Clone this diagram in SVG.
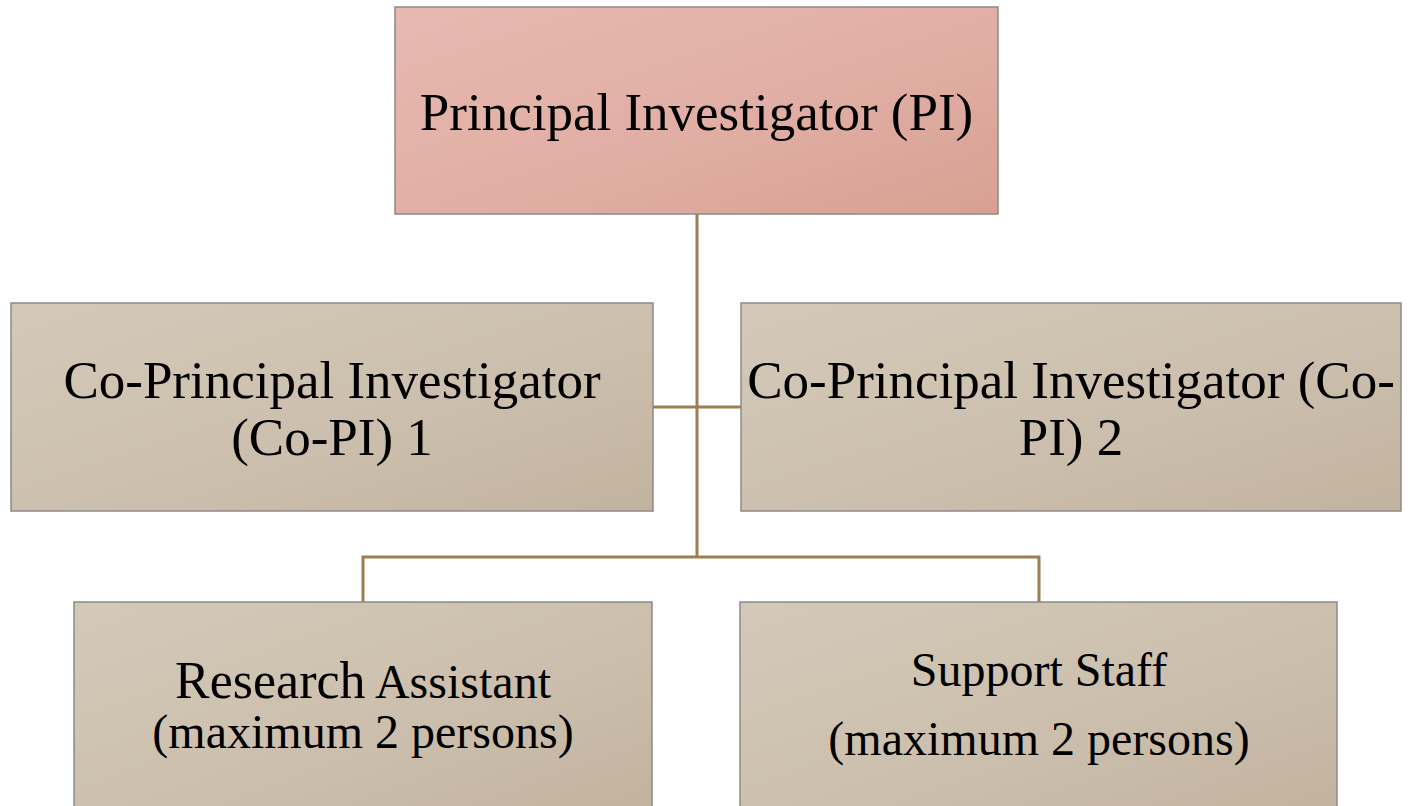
<svg xmlns="http://www.w3.org/2000/svg" width="1408" height="806" viewBox="0 0 1408 806">
<defs>
<linearGradient id="gPI" x1="0" y1="0" x2="1" y2="1">
<stop offset="0" stop-color="#e7b9b0"/>
<stop offset="0.6" stop-color="#e0ada3"/>
<stop offset="1" stop-color="#d7a092"/>
</linearGradient>
<linearGradient id="gN" x1="0" y1="0" x2="1" y2="1">
<stop offset="0" stop-color="#d4c9b9"/>
<stop offset="0.6" stop-color="#cbbeac"/>
<stop offset="1" stop-color="#c2b39e"/>
</linearGradient>
</defs>
<style>
.box{stroke:#8c8a86;stroke-width:1.5}
.pi{fill:url(#gPI)}
.n{fill:url(#gN)}
text{font-family:"Liberation Serif","Times New Roman",serif;fill:#000;text-anchor:middle}
.t53{font-size:53px}
.t48{font-size:48px}
.conn{stroke:#9b7f50;stroke-width:3;fill:none}
</style>
<rect width="1408" height="806" fill="#fff"/>
<g id="connectors">
<line class="conn" x1="697" y1="214" x2="697" y2="557"/>
<line class="conn" x1="653" y1="407" x2="741" y2="407"/>
<polyline class="conn" points="363,602 363,557 1039,557 1039,602"/>
</g>
<g id="pi">
<rect class="box pi" x="395" y="7" width="603" height="207"/>
<text class="t53" x="696.5" y="130">Principal Investigator (PI)</text>
</g>
<g id="copi1">
<rect class="box n" x="11" y="303" width="642" height="208"/>
<text class="t53" x="332" y="398">Co-Principal Investigator</text>
<text class="t53" x="332" y="455">(Co-PI) 1</text>
</g>
<g id="copi2">
<rect class="box n" x="741" y="303" width="660" height="208"/>
<text class="t53" x="1071" y="398">Co-Principal Investigator (Co-</text>
<text class="t53" x="1071" y="455">PI) 2</text>
</g>
<g id="ra">
<rect class="box n" x="74" y="602" width="578" height="210"/>
<text x="363" y="698"><tspan font-size="52">Research</tspan><tspan font-size="48"> Assistant</tspan></text>
<text class="t48" x="363" y="748">(maximum 2 persons)</text>
</g>
<g id="ss">
<rect class="box n" x="740" y="602" width="597" height="210"/>
<text class="t48" x="1039" y="686">Support Staff</text>
<text class="t48" x="1039" y="755">(maximum 2 persons)</text>
</g>
</svg>
